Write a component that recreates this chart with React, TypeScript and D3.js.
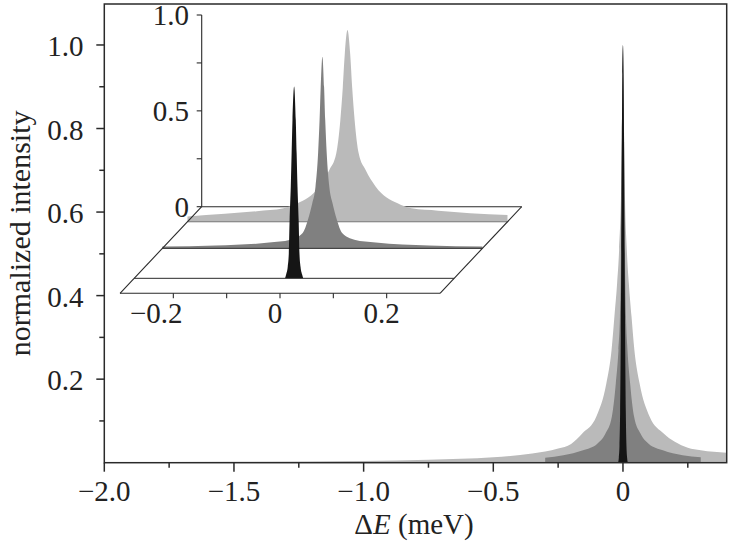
import React from 'react';
import * as d3 from 'd3';

const W = 730;
const H = 545;

// main axis ticks
const xTickMajor = [-2.0, -1.5, -1.0, -0.5, 0];
const xTickLabels = ['\u22122.0', '\u22121.5', '\u22121.0', '\u22120.5', '0'];
const xTickMinor = [-1.75, -1.25, -0.75, -0.25, 0.25];
const yTickMajor = [0.2, 0.4, 0.6, 0.8, 1.0];
const yTickLabels = ['0.2', '0.4', '0.6', '0.8', '1.0'];
const yTickMinor = [0.1, 0.3, 0.5, 0.7, 0.9];

// main plot series (ΔE in meV, normalized intensity)
const mainLightE = [-2.0, -1.5, -1.0, -0.75, -0.5, -0.35, -0.25, -0.2, -0.157, -0.103, -0.064, -0.044, -0.033, -0.0225, -0.0148, -0.007, -0.003, 0, 0.003, 0.007, 0.0148, 0.0225, 0.033, 0.044, 0.064, 0.103, 0.157, 0.2, 0.25, 0.3, 0.4];
const mainLightI = [0.001, 0.002, 0.004, 0.007, 0.013, 0.022, 0.034, 0.045, 0.07, 0.11, 0.19, 0.27, 0.35, 0.43, 0.51, 0.66, 0.85, 1.0, 0.85, 0.66, 0.51, 0.43, 0.35, 0.27, 0.19, 0.11, 0.07, 0.05, 0.036, 0.03, 0.024];

const mainDarkE = [-0.3, -0.23, -0.154, -0.1, -0.0675, -0.043, -0.0276, -0.0174, -0.0116, -0.009, -0.006, -0.003, 0, 0.003, 0.006, 0.009, 0.0116, 0.0174, 0.0276, 0.043, 0.0675, 0.1, 0.154, 0.23, 0.3];
const mainDarkI = [0.012, 0.018, 0.03, 0.045, 0.07, 0.11, 0.19, 0.27, 0.35, 0.43, 0.63, 0.87, 1.0, 0.87, 0.63, 0.43, 0.35, 0.27, 0.19, 0.11, 0.07, 0.045, 0.03, 0.018, 0.013];

const mainBlackE = [-0.019, -0.016, -0.0135, -0.011, -0.0084, -0.0064, -0.004, -0.002, 0, 0.002, 0.004, 0.0064, 0.0084, 0.011, 0.0135, 0.016, 0.019];
const mainBlackI = [0, 0.012, 0.04, 0.12, 0.3, 0.5, 0.78, 0.93, 1.0, 0.93, 0.78, 0.5, 0.3, 0.12, 0.04, 0.012, 0];

// inset series
const insetLightE = [-0.3, -0.23, -0.17, -0.12, -0.094, -0.053, -0.034, -0.021, -0.0134, -0.0088, -0.005, 0, 0.005, 0.0088, 0.0134, 0.021, 0.034, 0.053, 0.094, 0.12, 0.17, 0.23, 0.3];
const insetLightI = [0.028, 0.042, 0.055, 0.07, 0.096, 0.183, 0.27, 0.357, 0.53, 0.7, 0.878, 1.0, 0.878, 0.7, 0.53, 0.357, 0.27, 0.183, 0.096, 0.07, 0.058, 0.045, 0.035];

const insetDarkE = [-0.3, -0.2, -0.1, -0.06, -0.037, -0.027, -0.019, -0.013, -0.008, -0.0053, -0.0032, 0, 0.0032, 0.0053, 0.008, 0.013, 0.019, 0.027, 0.037, 0.06, 0.1, 0.2, 0.3];
const insetDarkI = [0.01, 0.015, 0.03, 0.045, 0.08, 0.15, 0.235, 0.32, 0.5, 0.67, 0.84, 1.0, 0.84, 0.67, 0.5, 0.32, 0.235, 0.15, 0.08, 0.045, 0.03, 0.015, 0.01];

const insetBlackE = [-0.017, -0.015, -0.012, -0.01, -0.0085, -0.0063, -0.0047, -0.0031, 0, 0.0031, 0.0047, 0.0063, 0.0085, 0.01, 0.012, 0.015, 0.017];
const insetBlackI = [0, 0.02, 0.06, 0.13, 0.3, 0.478, 0.652, 0.826, 1.0, 0.826, 0.652, 0.478, 0.3, 0.13, 0.06, 0.02, 0];

// inset axes
const insetXTicks = [-0.2, -0.1, 0, 0.1, 0.2];
const insetXLabelTicks = [-0.2, 0, 0.2];
const insetXLabels = ['\u22120.2', '0', '0.2'];
const insetYTicks = [0, 0.25, 0.5, 0.75, 1.0];
const insetYLabelTicks = [0, 0.5, 1.0];
const insetYLabels = ['0', '0.5', '1.0'];
// slice depth (0 = front edge, 1 = back edge)
const insetDepths = [0.826, 0.519, 0.173];

const LIGHT = '#bababa';
const DARK = '#808080';
const BLACK = '#151515';
const AXIS = '#2a2a2a';
const FONT = '"Liberation Serif", "Times New Roman", serif';

const zip = (e: number[], i: number[]) => e.map((v, k) => [v, i[k]] as [number, number]);

export default function App() {
  const x = d3.scaleLinear().domain([-2, 0.4]).range([104.3, 726.7]);
  const y = d3.scaleLinear().domain([0, 1.1]).range([462.7, 3.2]);

  const area = d3
    .area<[number, number]>()
    .x((d) => x(d[0]))
    .y0(y(0))
    .y1((d) => y(d[1]))
    .curve(d3.curveMonotoneX);

  // inset pseudo-3D scales
  const xi = d3.scaleLinear().domain([-0.3, 0.3]).range([120, 440]);
  const depthX = d3.scaleLinear().domain([0, 1]).range([0, 81.7]);
  const depthY = d3.scaleLinear().domain([0, 1]).range([293.3, 206.7]);
  const hi = d3.scaleLinear().domain([0, 1]).range([0, 191.7]);
  const yiAxis = d3.scaleLinear().domain([0, 1]).range([206.7, 15]);

  const sliceArea = (d: number) =>
    d3
      .area<[number, number]>()
      .x((p) => xi(p[0]) + depthX(d))
      .y0(depthY(d))
      .y1((p) => depthY(d) - hi(p[1]))
      .curve(d3.curveMonotoneX);

  const insetSeries = [
    { data: zip(insetLightE, insetLightI), color: LIGHT, depth: insetDepths[0] },
    { data: zip(insetDarkE, insetDarkI), color: DARK, depth: insetDepths[1] },
    { data: zip(insetBlackE, insetBlackI), color: BLACK, depth: insetDepths[2] },
  ];

  const fl = xi(-0.3), fr = xi(0.3);
  const fy = depthY(0), by = depthY(1);
  const bx = depthX(1);

  const x0 = x.range()[0], x1 = x.range()[1];
  const yb = y(0), yt = 4;

  return (
    <svg width={W} height={H} style={{ position: 'absolute', left: 0, top: 0, background: '#fff' }} fontFamily={FONT}>
      <rect x={0} y={0} width={W} height={H} fill="#fff" />
      <defs>
        <clipPath id="plotclip">
          <rect x={x0} y={yt} width={x1 - x0} height={yb - yt} />
        </clipPath>
      </defs>

      {/* main series */}
      <g clipPath="url(#plotclip)">
        <path d={area(zip(mainLightE, mainLightI)) || ''} fill={LIGHT} />
        <path d={area(zip(mainDarkE, mainDarkI)) || ''} fill={DARK} />
        <path d={area(zip(mainBlackE, mainBlackI)) || ''} fill={BLACK} />
      </g>

      {/* frame */}
      <rect x={x0} y={yt} width={x1 - x0} height={yb - yt} fill="none" stroke={AXIS} strokeWidth={1.5} />

      {/* x ticks */}
      {xTickMajor.map((v, k) => (
        <g key={'xm' + k}>
          <line x1={x(v)} x2={x(v)} y1={yb} y2={yb + 9} stroke={AXIS} strokeWidth={1.5} />
          <text x={x(v)} y={501} fontSize={29} textAnchor="middle" fill="#222">{xTickLabels[k]}</text>
        </g>
      ))}
      {xTickMinor.map((v, k) => (
        <line key={'xn' + k} x1={x(v)} x2={x(v)} y1={yb} y2={yb + 5} stroke={AXIS} strokeWidth={1.5} />
      ))}

      {/* y ticks */}
      {yTickMajor.map((v, k) => (
        <g key={'ym' + k}>
          <line x1={x0} x2={x0 - 8} y1={y(v)} y2={y(v)} stroke={AXIS} strokeWidth={1.5} />
          <text x={83.5} y={y(v) + 11} fontSize={29} textAnchor="end" fill="#222">{yTickLabels[k]}</text>
        </g>
      ))}
      {yTickMinor.map((v, k) => (
        <line key={'yn' + k} x1={x0} x2={x0 - 5} y1={y(v)} y2={y(v)} stroke={AXIS} strokeWidth={1.5} />
      ))}

      {/* axis titles */}
      <text x={414} y={534} fontSize={29} textAnchor="middle" fill="#222">
        Δ<tspan fontStyle="italic">E</tspan> (meV)
      </text>
      <text transform={`translate(30,${(yt + yb) / 2}) rotate(-90)`} fontSize={30} textAnchor="middle" fill="#222">
        normalized intensity
      </text>

      {/* inset */}
      <g>
        {/* back edge */}
        <line x1={fl + bx} x2={fr + bx} y1={by} y2={by} stroke={AXIS} strokeWidth={1.1} />
        {insetSeries.map((s, k) => (
          <g key={'is' + k}>
            <path d={sliceArea(s.depth)(s.data) || ''} fill={s.color} />
            <line
              x1={fl + depthX(s.depth)}
              x2={fr + depthX(s.depth)}
              y1={depthY(s.depth)}
              y2={depthY(s.depth)}
              stroke={k === 0 ? '#777' : AXIS}
              strokeWidth={1}
            />
          </g>
        ))}
        {/* side & front edges */}
        <line x1={fl} y1={fy} x2={fl + bx} y2={by} stroke={AXIS} strokeWidth={1.1} />
        <line x1={fr} y1={fy} x2={fr + bx} y2={by} stroke={AXIS} strokeWidth={1.1} />
        <line x1={fl} y1={fy} x2={fr} y2={fy} stroke={AXIS} strokeWidth={1.1} />

        {/* inset x ticks */}
        {insetXTicks.map((v, k) => (
          <line key={'ixt' + k} x1={xi(v)} x2={xi(v)} y1={fy} y2={fy + 5} stroke={AXIS} strokeWidth={1.1} />
        ))}
        {insetXLabelTicks.map((v, k) => (
          <text key={'ixl' + k} x={xi(v) - 5 + (v < 0 ? -12 : 0)} y={323} fontSize={29} textAnchor="middle" fill="#222">
            {insetXLabels[k]}
          </text>
        ))}

        {/* inset y axis */}
        <line x1={fl + bx} x2={fl + bx} y1={yiAxis(0)} y2={yiAxis(1)} stroke={AXIS} strokeWidth={1.1} />
        {insetYTicks.map((v, k) => (
          <line key={'iyt' + k} x1={fl + bx} x2={fl + bx - 5} y1={yiAxis(v)} y2={yiAxis(v)} stroke={AXIS} strokeWidth={1.1} />
        ))}
        {insetYLabelTicks.map((v, k) => (
          <text key={'iyl' + k} x={189} y={yiAxis(v) + 10} fontSize={29} textAnchor="end" fill="#222">
            {insetYLabels[k]}
          </text>
        ))}
      </g>
    </svg>
  );
}
